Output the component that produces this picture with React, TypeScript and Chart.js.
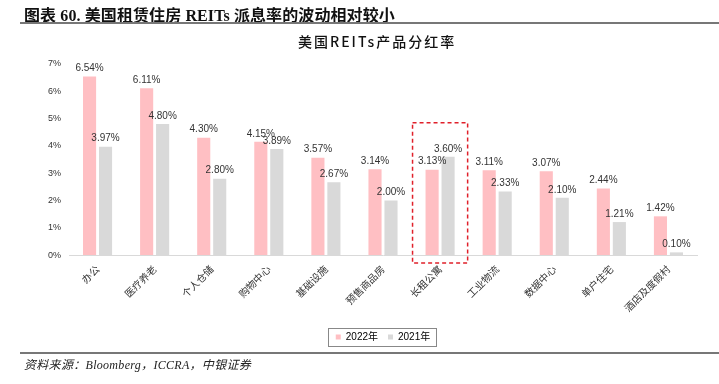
import React, { useEffect, useRef } from "react";
import { Chart, registerables } from "chart.js";

Chart.register(...registerables);

const categories = ["办公", "医疗养老", "个人仓储", "购物中心", "基础设施", "预售商品房", "长租公寓", "工业物流", "数据中心", "单户住宅", "酒店及度假村"];
const values2022 = [6.54, 6.11, 4.30, 4.15, 3.57, 3.14, 3.13, 3.11, 3.07, 2.44, 1.42];
const values2021 = [3.97, 4.80, 2.80, 3.89, 2.67, 2.00, 3.60, 2.33, 2.10, 1.21, 0.10];
const seriesNames = ["2022年", "2021年"];
const highlightIndex = 6;
const highlightTop = 4.85;

const CJK = '"Liberation Sans", "Noto Sans CJK SC", sans-serif';

const labelPlugin = {
  id: "barLabels",
  afterDatasetsDraw(chart: any) {
    const ctx = chart.ctx;
    ctx.save();
    ctx.font = '10px "Liberation Sans", sans-serif';
    ctx.fillStyle = "#333";
    ctx.textAlign = "center";
    ctx.textBaseline = "bottom";
    chart.data.datasets.forEach((ds: any, di: number) => {
      const meta = chart.getDatasetMeta(di);
      meta.data.forEach((el: any, i: number) => {
        ctx.fillText(ds.data[i].toFixed(2) + "%", el.x, el.y - 3);
      });
    });
    ctx.restore();
  },
};

const boxPlugin = {
  id: "highlightBox",
  afterDraw(chart: any) {
    const ctx = chart.ctx;
    const xs = chart.scales.x;
    const ys = chart.scales.y;
    const cw = (xs.right - xs.left) / categories.length;
    const cx = xs.getPixelForValue(highlightIndex);
    const top = ys.getPixelForValue(highlightTop);
    const bottom = ys.bottom + 8;
    ctx.save();
    ctx.strokeStyle = "#E0202A";
    ctx.lineWidth = 1.5;
    ctx.setLineDash([4, 3]);
    ctx.strokeRect(cx - cw / 2 + 1, top, cw - 2, bottom - top);
    ctx.restore();

    const lg = chart.legend;
    if (lg && lg.legendHitBoxes && lg.legendHitBoxes.length) {
      const hb = lg.legendHitBoxes;
      const l = Math.min(...hb.map((h: any) => h.left)) - 8;
      const r = Math.max(...hb.map((h: any) => h.left + h.width)) + 6;
      const t = Math.min(...hb.map((h: any) => h.top)) - 4;
      const b = Math.max(...hb.map((h: any) => h.top + h.height)) + 4;
      ctx.save();
      ctx.strokeStyle = "#888";
      ctx.lineWidth = 1;
      ctx.strokeRect(Math.round(l) + 0.5, Math.round(t) + 0.5, Math.round(r - l), Math.round(b - t));
      ctx.restore();
    }
  },
};

export default function App() {
  const ref = useRef<HTMLCanvasElement>(null);
  useEffect(() => {
    const chart = new Chart(ref.current as HTMLCanvasElement, {
      type: "bar",
      data: {
        labels: categories,
        datasets: [
          { label: seriesNames[0], data: values2022, backgroundColor: "#FFBFC3", categoryPercentage: 0.56, barPercentage: 0.82 },
          { label: seriesNames[1], data: values2021, backgroundColor: "#D9D9D9", categoryPercentage: 0.56, barPercentage: 0.82 },
        ],
      },
      options: {
        animation: false,
        responsive: false,
        maintainAspectRatio: false,
        layout: { padding: { top: 64, left: 0, right: 22, bottom: 32 } },
        plugins: {
          title: { display: false },
          legend: {
            position: "bottom",
            fullSize: false,
            labels: {
              boxWidth: 5,
              boxHeight: 5,
              color: "#000",
              padding: 10,
              font: { family: CJK, size: 10 },
            },
          },
          tooltip: { enabled: false },
        },
        scales: {
          x: {
            grid: { display: false, drawTicks: false },
            border: { display: true, color: "#D9D9D9", width: 1 },
            ticks: {
              color: "#333",
              font: { family: '"Noto Sans CJK SC", sans-serif', size: 10 },
              maxRotation: 45,
              minRotation: 45,
              padding: 8,
              autoSkip: false,
            },
          },
          y: {
            min: 0,
            max: 7,
            grid: { display: false, drawTicks: false },
            border: { display: false },
            ticks: {
              stepSize: 1,
              color: "#333",
              padding: 8,
              font: { family: '"Liberation Sans", sans-serif', size: 9 },
              callback: (v: any) => v + "%",
            },
            afterFit: (s: any) => {
              s.width = 69;
            },
          },
        },
      },
      plugins: [labelPlugin, boxPlugin],
    });
    return () => chart.destroy();
  }, []);

  return (
    <div style={{ position: "absolute", left: 0, top: 0, width: 719, height: 384, background: "#fff", overflow: "hidden" }}>
      <canvas ref={ref} width={719} height={384} style={{ position: "absolute", left: 0, top: 0, width: 719, height: 384 }} />
      <div style={{ position: "absolute", left: 24, top: 2, font: 'bold 16px "Liberation Serif", "Noto Sans CJK SC", serif', letterSpacing: "0.1px", color: "#111", whiteSpace: "nowrap" }}>
        图表 60. 美国租赁住房 REITs 派息率的波动相对较小
      </div>
      <div style={{ position: "absolute", left: 20, right: 0, top: 22, height: 2, background: "#777" }} />
      <div style={{ position: "absolute", left: 298, top: 33, font: '500 14px "Noto Sans CJK SC", sans-serif', letterSpacing: "2px", color: "#111", whiteSpace: "nowrap", lineHeight: "16px" }}>
        美国REITs产品分红率
      </div>
      <div style={{ position: "absolute", left: 20, right: 0, top: 352, height: 2, background: "#777" }} />
      <div style={{ position: "absolute", left: 24, top: 355, font: 'italic 12px "Liberation Serif", "Noto Sans CJK SC", serif', letterSpacing: "0.3px", color: "#222", whiteSpace: "nowrap" }}>
        资料来源：Bloomberg，ICCRA，中银证券
      </div>
    </div>
  );
}
